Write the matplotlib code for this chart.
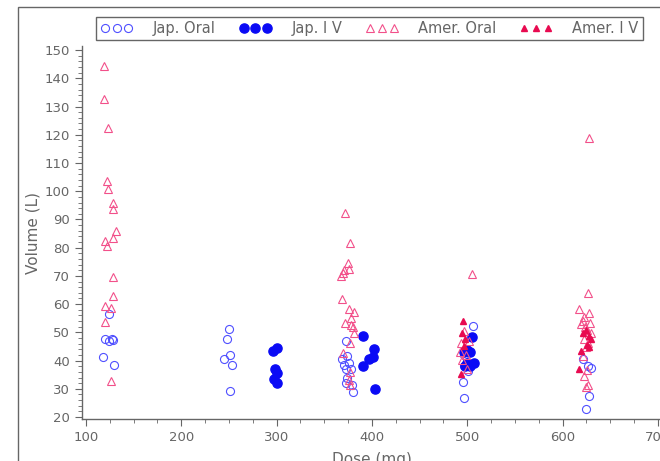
import matplotlib.pyplot as plt
from matplotlib.patches import Rectangle
from matplotlib.ticker import MultipleLocator

# Jap. Oral (open circles)
jo_dose = [124, 120, 124, 127, 128, 118, 130,
           250, 248, 251, 245, 253, 251,
           373, 374, 369, 376, 371, 373, 378, 374, 373, 379, 380,
           506, 497, 500, 497, 501, 496, 497,
           621, 627, 630, 628, 625]
jo_vol = [56.5, 47.5, 47.0, 47.6, 47.3, 41.3, 38.3,
          51.1, 47.6, 42.0, 40.4, 38.4, 29.3,
          46.9, 41.7, 40.4, 39.2, 38.6, 37.0, 37.1, 33.7, 32.1, 31.5, 29.0,
          52.4, 42.0, 38.9, 38.0, 36.3, 32.5, 26.6,
          40.5, 38.2, 37.4, 27.4, 23.0]

# Jap. I V (filled circles)
jiv_dose = [300, 296, 298, 301, 297, 301,
            391, 402, 401, 397, 391, 403,
            505, 500, 497, 503, 500, 507, 503, 498]
jiv_vol = [44.5, 43.5, 37.0, 35.7, 33.5, 31.9,
           48.8, 44.1, 41.4, 40.4, 38.2, 30.0,
           48.5, 43.8, 43.2, 43.0, 39.0, 39.0, 38.2, 38.0]

# Amer. Oral (open triangles)
ao_dose = [119, 119, 123, 122, 123, 128, 128, 132, 128, 120, 122, 129, 128, 120, 126, 120, 126,
           372, 377, 375, 376, 371, 370, 368, 369, 376, 381, 378, 372, 378, 380, 381, 377, 370,
           377, 376, 377,
           505, 497, 502, 494, 492, 499, 495, 500,
           628, 627, 617, 628, 622, 621, 629, 619, 624, 626, 630, 623, 627, 625, 621, 626, 622,
           627, 625]
ao_vol = [144.5, 132.5, 122.5, 103.7, 100.7, 95.9, 93.8, 85.9, 83.5, 82.3, 80.6, 69.5, 62.8,
          59.4, 58.6, 53.5, 32.7,
          92.3, 81.5, 74.4, 72.4, 72.1, 71.1, 70.0, 61.9, 58.2, 57.3, 55.0, 53.2, 52.6, 52.0,
          49.9, 46.3, 42.6, 36.1, 33.1, 31.3,
          70.6, 50.5, 47.0, 46.2, 43.0, 42.0, 40.2, 37.0,
          118.7, 63.8, 58.3, 57.0, 55.5, 54.0, 53.3, 53.0, 52.0, 51.0, 49.7, 47.5, 46.1, 44.9,
          41.5, 36.5, 34.5, 31.5, 30.5]

# Amer. I V (filled small triangles)
aiv_dose = [496, 495, 498, 497, 494,
            625, 621, 628, 630, 626, 628, 619, 617]
aiv_vol = [54.0, 49.8, 47.6, 45.3, 35.3,
           50.8, 49.7, 48.7, 47.5, 45.5, 44.8, 43.4, 37.0]

grey = '#666666'
plt.rcParams['font.family'] = ['DejaVu Sans']

fig = plt.figure(figsize=(6.6, 4.61), dpi=100)
ax = fig.add_axes([0.124, 0.091, 0.880, 0.809])

ax.plot(jo_dose, jo_vol, linestyle='none', marker='o', ms=5.8, mfc='none',
        mec='#5050ff', mew=0.8, label='Jap. Oral')
ax.plot(jiv_dose, jiv_vol, linestyle='none', marker='o', ms=6.6, mfc='#0a0af5',
        mec='#0a0af5', label='Jap. I V')
ax.plot(ao_dose, ao_vol, linestyle='none', marker='^', ms=6.0, mfc='none',
        mec='#f2508a', mew=0.8, label='Amer. Oral')
ax.plot(aiv_dose, aiv_vol, linestyle='none', marker='^', ms=4.4, mfc='#e80a50',
        mec='#e80a50', label='Amer. I V')

ax.set_xlim(95.8, 705)
ax.set_ylim(19.3, 151.4)
ax.xaxis.set_major_locator(MultipleLocator(100))
ax.xaxis.set_minor_locator(MultipleLocator(25))
ax.yaxis.set_major_locator(MultipleLocator(10))
ax.yaxis.set_minor_locator(MultipleLocator(2))

for s in ['top', 'right']:
    ax.spines[s].set_visible(False)
for s in ['left', 'bottom']:
    ax.spines[s].set_color(grey)
    ax.spines[s].set_linewidth(1)
ax.tick_params(which='major', direction='out', length=5, color=grey,
               labelcolor=grey, labelsize=9.5)
ax.tick_params(which='minor', direction='out', length=3, color=grey)

ax.set_xlabel('Dose (mg)', fontsize=11, color=grey, labelpad=6)
ax.set_ylabel('Volume (L)', fontsize=11, color=grey, labelpad=3)

leg = fig.legend(loc='center', bbox_to_anchor=(0.56, 0.938), ncol=4, numpoints=3,
                 fontsize=10.5, handlelength=2.2, handletextpad=1.4,
                 columnspacing=1.6, fancybox=False, framealpha=1,
                 edgecolor=grey, borderpad=0.3)
leg.get_frame().set_linewidth(1)
for t in leg.get_texts():
    t.set_color(grey)

# outer frame of the page, running off the right and bottom edges
fig.add_artist(Rectangle((18 / 660, -0.1), 1.1, (1 - 7 / 461) + 0.1,
                         transform=fig.transFigure, fill=False,
                         edgecolor=grey, linewidth=1))

fig.savefig('out.png', dpi=100)
